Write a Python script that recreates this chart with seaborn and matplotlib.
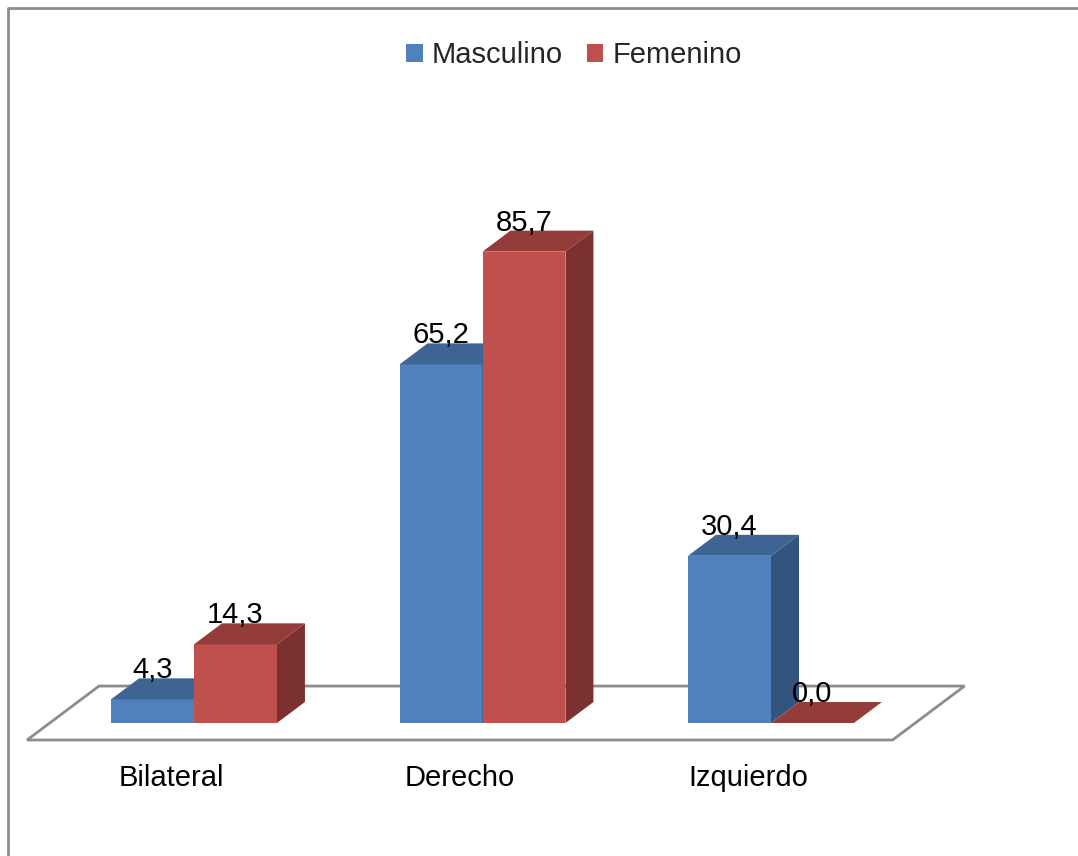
import numpy as np
import pandas as pd
import seaborn as sns
import matplotlib
matplotlib.use("Agg")
import matplotlib.pyplot as plt
from matplotlib import font_manager
from matplotlib.patches import Polygon
from matplotlib.lines import Line2D

# ---- data -------------------------------------------------------------
lados = ["Bilateral", "Derecho", "Izquierdo"]
series = ["Masculino", "Femenino"]
masculino = [4.3, 65.2, 30.4]
femenino = [14.3, 85.7, 0.0]

# ---- styling ----------------------------------------------------------
front_cols = {"Masculino": "#4F81BD", "Femenino": "#C0504D"}
top_cols = {"Masculino": "#3D6492", "Femenino": "#943C3A"}
side_cols = {"Masculino": "#33547D", "Femenino": "#7B3130"}
grey = "#8C8C8C"

sns.set_theme(style="white")
installed = {f.name for f in font_manager.fontManager.ttflist}
families = [f for f in ["Liberation Sans Narrow", "Arial Narrow", "Liberation Sans", "DejaVu Sans"]
            if f in installed]
plt.rcParams["font.family"] = families
FS = 21

W, H = 1078, 856
fig = plt.figure(figsize=(W / 100, H / 100), dpi=100)
fig.patch.set_facecolor("white")
ax = fig.add_axes([0, 0, 1, 1])

# pixel geometry of the front plane
cat_px = 288.5          # pixels per category step
x0_px = 194.0           # first category centre, pixels from left
base_px = 133.0         # baseline, pixels from bottom
unit_px = 5.5           # pixels per percentage point
xlim = (-x0_px / cat_px, (W - x0_px) / cat_px)
ylim = (-base_px / unit_px, (H - base_px) / unit_px)

# oblique depth vector (one bar depth) in data units
ddx = 28.0 / cat_px
ddy = 21.0 / unit_px

df = pd.DataFrame({
    "Lado": lados * 2,
    "Sexo": [series[0]] * 3 + [series[1]] * 3,
    "Porcentaje": masculino + femenino,
})

# floor plate
fz0, fz1 = -0.81, 1.76
n = len(lados)
floor = Polygon(
    [(-0.5 + fz0 * ddx, fz0 * ddy), (n - 0.5 + fz0 * ddx, fz0 * ddy),
     (n - 0.5 + fz1 * ddx, fz1 * ddy), (-0.5 + fz1 * ddx, fz1 * ddy)],
    closed=True, facecolor="white", edgecolor=grey, lw=2, zorder=1,
)
ax.add_patch(floor)

sns.barplot(data=df, x="Lado", y="Porcentaje", hue="Sexo", order=lados,
            hue_order=series, palette=front_cols, saturation=1, width=0.575,
            linewidth=0, ax=ax, legend=True)
ax.set_xlim(*xlim)
ax.set_ylim(*ylim)
ax.set_axis_off()

# give each bar its top and side faces, drawn left to right
bars = []
for name, cont in zip(series, ax.containers):
    for rect, val in zip(cont.patches, cont.datavalues):
        bars.append((rect.get_x(), rect, name, val))
bars.sort(key=lambda b: b[0])

for k, (_, rect, name, val) in enumerate(bars):
    x = rect.get_x()
    w = rect.get_width()
    h = rect.get_height()
    z = 3 + k * 3
    rect.set_zorder(z)
    top = Polygon([(x, h), (x + w, h), (x + w + ddx, h + ddy), (x + ddx, h + ddy)],
                  closed=True, facecolor=top_cols[name], lw=0, zorder=z + 1)
    side = Polygon([(x + w, 0), (x + w + ddx, ddy), (x + w + ddx, h + ddy), (x + w, h)],
                   closed=True, facecolor=side_cols[name], lw=0, zorder=z + 2)
    ax.add_patch(top)
    if h > 0:
        ax.add_patch(side)
    ax.text(x + w / 2, h + ddy, f"{val:.1f}".replace(".", ","),
            ha="center", va="baseline", fontsize=FS, color="black", zorder=100)

# category names along the front edge of the floor
for i, lado in enumerate(lados):
    ax.text(i + fz0 * ddx, -55.0 / unit_px, lado, ha="center", va="center",
            fontsize=FS, color="black")

sns.move_legend(ax, "center", bbox_to_anchor=(574 / W, 1 - 55 / H),
                bbox_transform=fig.transFigure, ncol=2, title=None,
                frameon=False, fontsize=FS, handlelength=0.58,
                handleheight=0.58, handletextpad=0.3, columnspacing=0.8)

# outer chart frame
fig.add_artist(Line2D([8 / W, 8 / W, 1.0], [0.0, 1 - 8 / H, 1 - 8 / H],
                      transform=fig.transFigure, color=grey, lw=2))

fig.savefig("out.png", dpi=100, facecolor="white")
